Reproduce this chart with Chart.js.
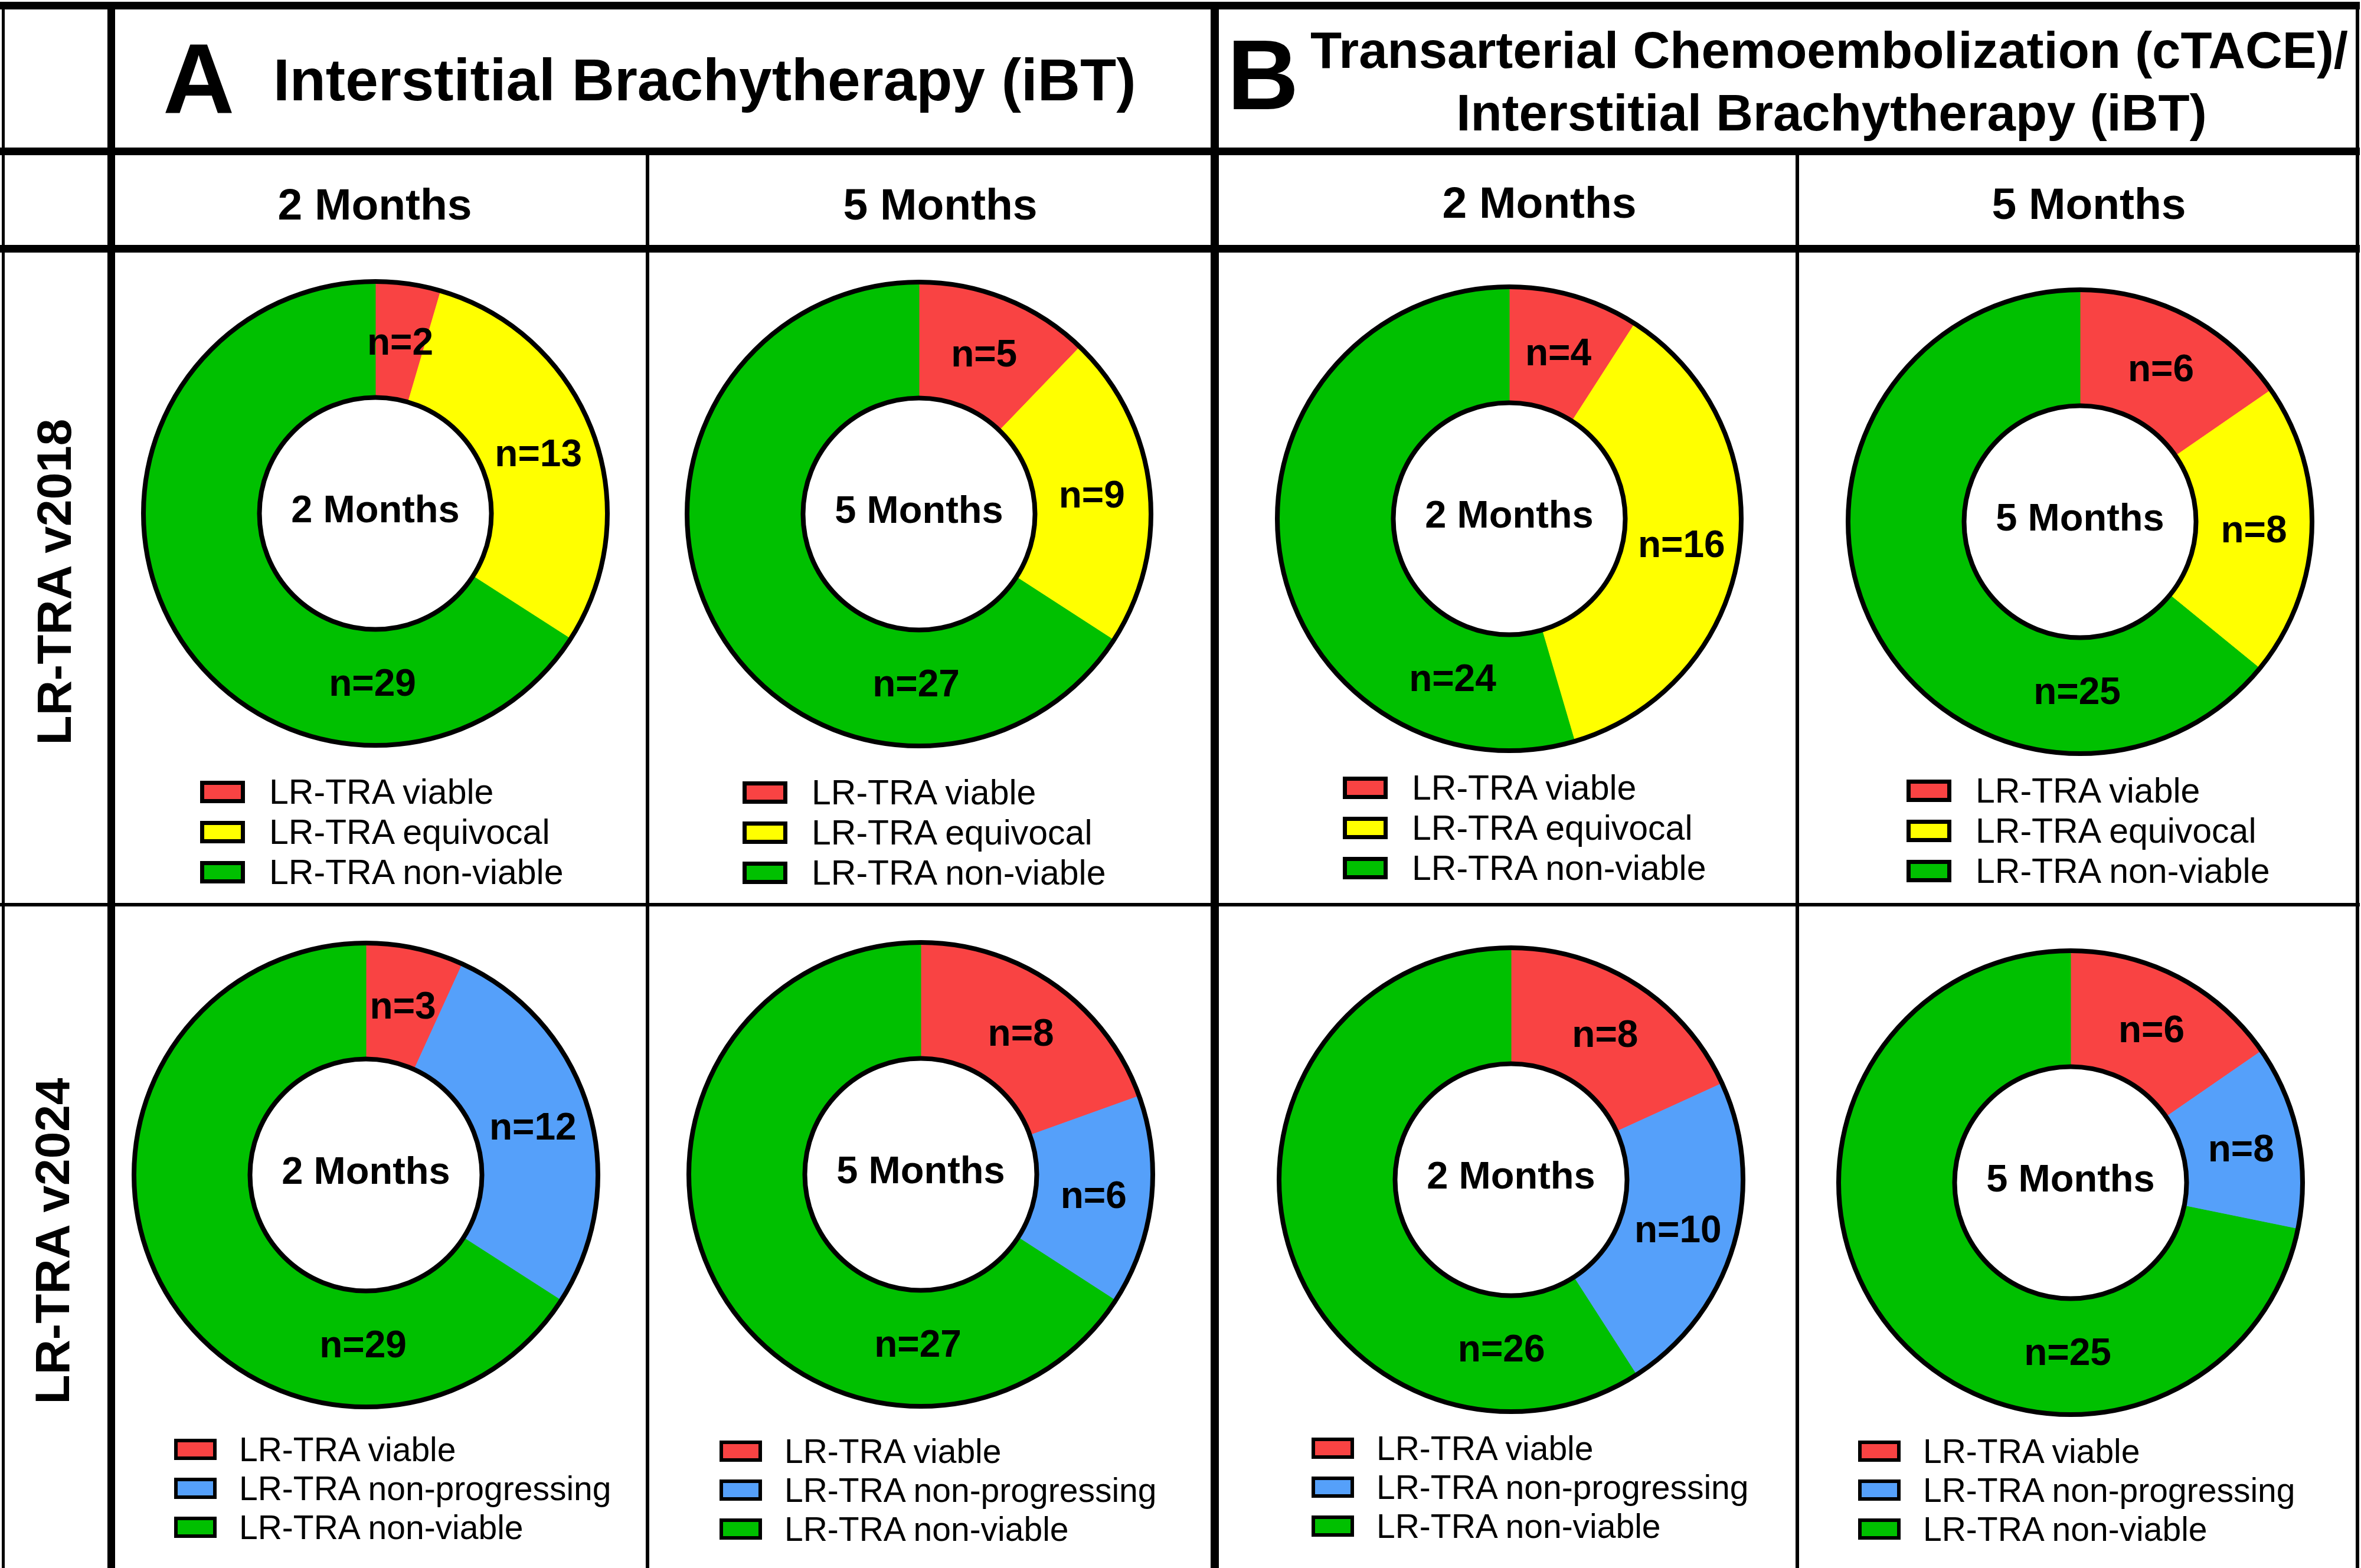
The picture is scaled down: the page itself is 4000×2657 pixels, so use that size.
<!DOCTYPE html>
<html>
<head>
<meta charset="utf-8">
<script src="https://cdn.jsdelivr.net/npm/chart.js@4.4.1/dist/chart.umd.min.js"></script>
<style>
    html, body { margin: 0; padding: 0; background: #fff; }
    body { position: relative; width: 4000px; height: 2657px; overflow: hidden; font-family: 'Liberation Sans', Arial, sans-serif; color: #000; }
    .line { position: absolute; background: #000; }
    .txt { position: absolute; line-height: 1; white-space: nowrap; }
    .panel { position: absolute; }
    .legend-row { position: absolute; display: flex; align-items: center; white-space: nowrap; }
    .legend-box { box-sizing: border-box; border-style: solid; border-color: #000; }
</style>
</head>
<body>
<script>
// Data
const categories2018 = ['LR-TRA viable', 'LR-TRA equivocal', 'LR-TRA non-viable'];
const categories2024 = ['LR-TRA viable', 'LR-TRA non-progressing', 'LR-TRA non-viable'];
const timepoints = ['2 Months', '5 Months'];

const ibt2018_2m = [2, 13, 29];
const ibt2018_5m = [5, 9, 27];
const tace2018_2m = [4, 16, 24];
const tace2018_5m = [6, 8, 25];
const ibt2024_2m = [3, 12, 29];
const ibt2024_5m = [8, 6, 27];
const tace2024_2m = [8, 10, 26];
const tace2024_5m = [6, 8, 25];
// the published panel draws its slices narrower than the printed counts
const tace2024_5m_drawn = [6, 5, 28];

const colors2018 = ['#F94343', '#FFFF00', '#00C000'];
const colors2024 = ['#F94343', '#55A0FA', '#00C000'];

const FONT = "'Liberation Sans', Arial, sans-serif";

// helpers
function addLine(x, y, w, h) {
    const d = document.createElement('div');
    d.className = 'line';
    d.style.cssText = `left:${x}px;top:${y}px;width:${w}px;height:${h}px;`;
    document.body.appendChild(d);
}

function addText(text, x, baseline, size, bold, align) {
    const d = document.createElement('div');
    d.className = 'txt';
    d.textContent = text;
    d.style.fontSize = size + 'px';
    d.style.fontWeight = bold ? 'bold' : 'normal';
    d.style.top = (baseline - 0.8465 * size) + 'px';
    d.style.left = x + 'px';
    if (align === 'center') d.style.transform = 'translateX(-50%)';
    document.body.appendChild(d);
    return d;
}

// grid
const THICK = 13, THIN = 6;
addLine(0, 3, 3998, THICK);
addLine(0, 250, 3998, THICK);
addLine(0, 415, 3998, THICK);
addLine(0, 1530, 3998, THIN);
addLine(3, 3, 5, 2654);
addLine(182, 3, THICK, 2654);
addLine(2051, 3, 14, 2654);
addLine(1094, 256, THIN, 2401);
addLine(3042, 256, THIN, 2401);
addLine(3991, 3, THIN, 2654);

// headings
addText('A', 276, 192, 168, true);
addText('Interstitial Brachytherapy (iBT)', 463, 170, 100, true);
addText('B', 2079, 185, 168, true);
addText('Transarterial Chemoembolization (cTACE)/', 3099, 115, 87, true, 'center');
addText('Interstitial Brachytherapy (iBT)', 3103, 221, 87, true, 'center');

addText(timepoints[0], 635, 372, 75, true, 'center');
addText(timepoints[1], 1593, 372, 75, true, 'center');
addText(timepoints[0], 2608, 369, 75, true, 'center');
addText(timepoints[1], 3539, 371, 75, true, 'center');

// row labels (rotated)
[['LR-TRA v2018', 92, 986], ['LR-TRA v2024', 89, 2103]].forEach(([t, x, y]) => {
    const d = document.createElement('div');
    d.className = 'txt';
    d.textContent = t;
    d.style.cssText += `font-size:82px;font-weight:bold;left:${x}px;top:${y}px;transform:translate(-50%,-50%) rotate(-90deg);`;
    document.body.appendChild(d);
});

// rings + labels plugin
const donutDecor = {
    id: 'donutDecor',
    afterDatasetsDraw(chart) {
        const ctx = chart.ctx;
        const meta = chart.getDatasetMeta(0);
        const a0 = meta.data[0];
        const cx = a0.x, cy = a0.y;
        const outer = a0.outerRadius, inner = a0.innerRadius;
        ctx.save();
        ctx.strokeStyle = '#000';
        ctx.lineWidth = 8;
        ctx.beginPath();
        ctx.arc(cx, cy, outer, 0, Math.PI * 2);
        ctx.stroke();
        ctx.beginPath();
        ctx.arc(cx, cy, inner, 0, Math.PI * 2);
        ctx.fillStyle = '#fff';
        ctx.fill();
        ctx.stroke();

        const counts = chart.options.plugins.donutDecor.counts;
        const centerText = chart.options.plugins.donutDecor.center;
        ctx.fillStyle = '#000';
        ctx.textAlign = 'center';
        ctx.textBaseline = 'alphabetic';
        ctx.font = `bold 64px ${FONT}`;
        const midR = (outer + inner) / 2;
        const deg = Math.PI / 180;
        meta.data.forEach((arc, i) => {
            let ang = (arc.startAngle + arc.endAngle) / 2;
            let r = midR;
            if (i === meta.data.length - 1) {
                // big remaining slice: label sits near the bottom
                ang = Math.max(Math.PI / 2 + deg, arc.startAngle + 36 * deg);
                r = midR - 9;
            }
            const px = cx + Math.cos(ang) * r;
            const py = cy + Math.sin(ang) * r;
            ctx.fillText('n=' + counts[i], px, py + 0.358 * 64);
        });
        ctx.font = `bold 65px ${FONT}`;
        ctx.fillText(centerText, cx, cy - 8 + 0.358 * 65);
        ctx.restore();
    }
};

const panels = [
    { cx: 636, cy: 870, counts: ibt2018_2m, drawn: ibt2018_2m, cats: categories2018, colors: colors2018, center: timepoints[0], lx: 339, ly: 1342, row: 0 },
    { cx: 1557, cy: 871, counts: ibt2018_5m, drawn: ibt2018_5m, cats: categories2018, colors: colors2018, center: timepoints[1], lx: 1258, ly: 1343, row: 0 },
    { cx: 2557, cy: 879, counts: tace2018_2m, drawn: tace2018_2m, cats: categories2018, colors: colors2018, center: timepoints[0], lx: 2275, ly: 1335, row: 0 },
    { cx: 3524, cy: 884, counts: tace2018_5m, drawn: tace2018_5m, cats: categories2018, colors: colors2018, center: timepoints[1], lx: 3230, ly: 1340, row: 0 },
    { cx: 620, cy: 1991, counts: ibt2024_2m, drawn: ibt2024_2m, cats: categories2024, colors: colors2024, center: timepoints[0], lx: 295, ly: 2456, row: 1 },
    { cx: 1560, cy: 1990, counts: ibt2024_5m, drawn: ibt2024_5m, cats: categories2024, colors: colors2024, center: timepoints[1], lx: 1219, ly: 2459, row: 1 },
    { cx: 2560, cy: 1999, counts: tace2024_2m, drawn: tace2024_2m, cats: categories2024, colors: colors2024, center: timepoints[0], lx: 2222, ly: 2454, row: 1 },
    { cx: 3508, cy: 2004, counts: tace2024_5m, drawn: tace2024_5m_drawn, cats: categories2024, colors: colors2024, center: timepoints[1], lx: 3148, ly: 2459, row: 1 }
];

const R = 393;
const SIZE = 2 * (R + 10);

panels.forEach(p => {
    const wrap = document.createElement('div');
    wrap.className = 'panel';
    wrap.style.cssText = `left:${p.cx - SIZE / 2}px;top:${p.cy - SIZE / 2}px;width:${SIZE}px;height:${SIZE}px;`;
    const canvas = document.createElement('canvas');
    canvas.width = SIZE;
    canvas.height = SIZE;
    wrap.appendChild(canvas);
    document.body.appendChild(wrap);

    new Chart(canvas.getContext('2d'), {
        type: 'doughnut',
        data: {
            labels: p.cats,
            datasets: [{
                data: p.drawn,
                backgroundColor: p.colors,
                borderColor: p.colors,
                borderWidth: 1
            }]
        },
        options: {
            responsive: false,
            animation: false,
            radius: R,
            cutout: '50%',
            layout: { padding: 10 },
            plugins: {
                legend: { display: false },
                tooltip: { enabled: false },
                donutDecor: { counts: p.counts, center: p.center }
            }
        },
        plugins: [donutDecor]
    });

    // legend
    const step = p.row === 0 ? 68 : 66;
    const fs = p.row === 0 ? 59 : 57;
    const bw = p.row === 0 ? 76 : 72;
    const bh = p.row === 0 ? 38 : 36;
    const bb = p.row === 0 ? 7 : 6;
    const gap = p.row === 0 ? 41 : 38;
    p.cats.forEach((cat, i) => {
        const row = document.createElement('div');
        row.className = 'legend-row';
        row.style.cssText = `left:${p.lx}px;top:${p.ly + i * step - step / 2}px;height:${step}px;`;
        const box = document.createElement('div');
        box.className = 'legend-box';
        box.style.cssText = `width:${bw}px;height:${bh}px;border-width:${bb}px;background:${p.colors[i]};margin-right:${gap}px;`;
        const label = document.createElement('span');
        label.textContent = cat;
        label.style.cssText = `font-size:${fs}px;line-height:1;`;
        row.appendChild(box);
        row.appendChild(label);
        document.body.appendChild(row);
    });
});
</script>
</body>
</html>
